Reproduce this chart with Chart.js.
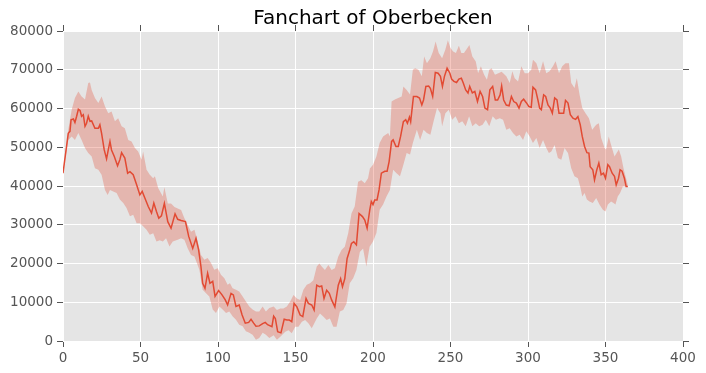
<!DOCTYPE html>
<html>
<head>
<meta charset="utf-8">
<script src="https://cdn.jsdelivr.net/npm/chart.js@4.4.1/dist/chart.umd.min.js"></script>
<style>
  html, body { margin: 0; padding: 0; background: #fff; }
  #wrap { width: 706px; height: 373px; }
</style>
</head>
<body>
<div id="wrap"><canvas id="chart"></canvas></div>
<script>
// ========== Datos (día, volumen) ==========

const titulo = 'Fanchart of Oberbecken';

const xTicks = [0, 50, 100, 150, 200, 250, 300, 350, 400];
const yTicks = [0, 10000, 20000, 30000, 40000, 50000, 60000, 70000, 80000];

// Línea central
const mediana = [
    [0, 43300], [3.4, 53600], [4.5, 54100], [5.2, 57100], [6.7, 57300], [7.7, 56400], [8.8, 58000],
    [9.9, 59800], [11, 59500], [12, 58000], [13.1, 58400], [14.2, 55400], [15.2, 56200], [16.3, 58000],
    [17.4, 56700], [18.5, 56800], [20.6, 54900], [22.8, 54900], [23.8, 55800], [24.9, 53600], [26.6, 49300],
    [28.1, 47000], [29.2, 49300], [30.3, 51500], [31.3, 49300], [33.1, 47600], [35.2, 45200], [36.7, 46800],
    [37.8, 48600], [39.9, 47200], [41.7, 43300], [43.2, 43700], [45.3, 42900], [47.5, 40300], [49.6, 37700],
    [51.1, 38600], [52.8, 36900], [55, 34700], [57.1, 33000], [58.6, 35600], [60.3, 33400], [61.8, 31700],
    [63.5, 32300], [65.4, 35500], [67.6, 30800], [69.7, 29100], [72.3, 32800], [74, 31400], [76.2, 31100],
    [79, 30800], [81.1, 27000], [83.7, 23900], [85.8, 26500], [87.5, 23500], [89, 19200], [90.1, 14900],
    [91.6, 13600], [93.3, 17500], [94.8, 14900], [96.6, 15400], [98.1, 11500], [100.4, 13000], [102.6, 11900],
    [104.7, 10600], [106.2, 9300], [108.4, 12300], [109.9, 11900], [111.6, 8900], [113.7, 9300], [115.5, 6800],
    [117.6, 4600], [119.8, 4800], [121.3, 5600], [123, 4600], [124.5, 3800], [126.6, 3900], [128.8, 4500],
    [130.5, 4800], [132, 4200], [134.8, 3700], [135.9, 6400], [137, 5800], [138.5, 2400], [140.6, 2100],
    [142.7, 5600], [144.4, 5400], [146, 5400], [147.6, 5000], [149.1, 9700], [150.9, 8800], [153, 6700],
    [154.7, 6300], [156.8, 11000], [158.3, 9700], [160.5, 9300], [162, 8000], [163.7, 14400], [165.4, 14000],
    [166.9, 14200], [168.4, 11000], [170.1, 13100], [171.8, 12300], [173.3, 10600], [175.4, 8800], [177.6, 14400],
    [179.1, 16100], [180.3, 14000], [181.8, 16100], [183.3, 21300], [185, 23500], [186.1, 25200], [187.6, 25600],
    [189.3, 24800], [191, 32900], [193.2, 32100], [194.7, 31200], [196.2, 29100], [197.9, 33800], [198.9, 36000],
    [200, 35200], [201.1, 36400], [202.6, 36400], [203.9, 39000], [205.4, 43300], [207.6, 43800], [209.1, 43800],
    [210.4, 46300], [212, 51500], [213, 51900], [214.8, 50200], [216.3, 50200], [217.8, 52800], [219.6, 56600],
    [221.1, 57100], [222.2, 56200], [223.5, 57800], [224.3, 56600], [226.1, 63100], [228.3, 63100], [230, 62700],
    [231.5, 60900], [232.6, 62200], [234.1, 65700], [235.9, 65800], [237, 65200], [238.5, 63100], [240.2, 69300],
    [242, 69100], [243.5, 68300], [244.8, 65700], [246.1, 68300], [247.8, 70400], [249.6, 69100], [250.7, 67600],
    [252.2, 67000], [253.9, 66700], [255.4, 67600], [257, 67800], [258.3, 66500], [259.8, 64800], [261.3, 64000],
    [262.4, 65700], [264.1, 64000], [265.7, 64400], [267.4, 61800], [269.1, 64400], [270.7, 63100], [272.2, 60100],
    [273.9, 59700], [275.4, 64800], [277.2, 65700], [278.9, 62200], [280.4, 62200], [282, 63500], [283, 65800],
    [284.3, 62200], [286, 60900], [287.8, 60700], [289.3, 63100], [290.8, 61800], [292.5, 61400], [294.2, 60100],
    [295.7, 61800], [297.2, 62400], [298.9, 61500], [300.6, 60500], [302.1, 60300], [303.2, 65500], [304.9, 64800],
    [306.4, 62200], [307.5, 60100], [308.6, 59700], [310.1, 63500], [311.4, 63100], [312.9, 60900], [314.4, 60100],
    [315.7, 58800], [317.2, 62700], [318.7, 62200], [320, 58800], [321.5, 58800], [323, 58800], [324.2, 62100],
    [325.8, 61400], [327.3, 58400], [329, 57500], [330.7, 57200], [332.2, 57900], [333.7, 55800], [335, 52800],
    [336.5, 50200], [338, 48600], [339.3, 48500], [340.1, 45000], [341.8, 44200], [342.9, 41600], [344.4, 44200],
    [345.7, 45900], [347.2, 42900], [348.7, 43300], [350, 42000], [351.5, 45500], [352.6, 45000], [354.3, 43300],
    [355.8, 42500], [356.9, 40300], [358.4, 42000], [359.4, 44200], [360.7, 43800], [362.2, 42000], [363.3, 39900],
    [364.4, 39900]
];

// Borde superior del abanico
const bandaSup = [
    [0, 43300], [3.4, 54500], [5.6, 59700], [7.7, 62700], [9.9, 64400], [12, 63100], [14.2, 62300], [16.3, 66600],
    [17.4, 66700], [18.5, 64800], [20.6, 62700], [22.8, 61400], [24.9, 63100], [27.1, 60500], [29.2, 58800],
    [31.3, 59200], [33.5, 56700], [35.6, 57500], [37.8, 55400], [39.9, 54900], [42.1, 51900], [44.2, 51500],
    [46.4, 49800], [48.5, 48900], [50.7, 46800], [51.7, 48900], [53.9, 44200], [56, 42900], [58.2, 42000],
    [59.3, 42500], [61.4, 39500], [64.4, 37300], [65.4, 39700], [67.6, 35500], [69.7, 35500], [71.9, 34600],
    [74, 34200], [76.2, 33800], [78.3, 31700], [80.5, 29900], [82.6, 28200], [84.8, 28700], [86.9, 25700],
    [89, 22200], [91.2, 21000], [93.3, 21400], [95.5, 20100], [97.6, 18400], [99.8, 18800], [101.9, 17100],
    [104.1, 16200], [106.2, 14500], [107.7, 14900], [109.4, 13600], [111.6, 13200], [113.7, 12800], [115.9, 11500],
    [118, 10200], [120.2, 8900], [122.3, 8100], [124.5, 7600], [126.6, 7600], [128.8, 8900], [130.9, 7600],
    [133.1, 8500], [135.9, 8900], [138, 8000], [140.2, 8400], [142.3, 8400], [144.4, 8900], [146.6, 10200],
    [148.7, 11900], [150.9, 11000], [153, 10600], [155.1, 13200], [157.3, 14500], [159.4, 14900], [161.5, 15700],
    [163.7, 19200], [165.4, 20000], [166.9, 19200], [169, 18300], [171.2, 19600], [173.3, 18300], [175.4, 18800],
    [177.6, 21800], [179.7, 23500], [181.8, 24300], [184, 27800], [186.1, 32900], [188.2, 34700], [190.4, 41100],
    [192.5, 41500], [194.7, 40700], [196.8, 42000], [198, 44500], [200, 45500], [202.2, 47600], [204.3, 51100],
    [206.5, 52800], [209.8, 53700], [210.9, 52800], [212, 61800], [214.1, 62300], [216.3, 62700], [218.5, 63100],
    [219.6, 65700], [221.7, 64800], [223.9, 63600], [225.7, 70000], [227.2, 70400], [229.3, 70000], [231.5, 68300],
    [233, 73400], [234.8, 71700], [237, 73000], [238.7, 74700], [240.4, 77300], [242.4, 74300], [244.6, 73000],
    [246.7, 75200], [248.3, 77600], [250, 75600], [251.7, 74700], [253.5, 74300], [255.4, 76200], [257, 74300],
    [258.7, 74300], [260.9, 75600], [262.2, 76400], [264.1, 73400], [266.3, 72100], [267.8, 69100], [269.6, 70900],
    [271.7, 68700], [273.5, 67400], [275, 70000], [276.5, 70400], [278.7, 68700], [280.9, 69100], [283, 69500],
    [286, 68300], [288.2, 66600], [289.9, 69600], [291.4, 67800], [293.6, 67000], [295.7, 70900], [297.9, 69100],
    [300, 69100], [302.1, 70000], [303.2, 72600], [305.4, 71700], [307.5, 69100], [309.7, 72200], [311.8, 69100],
    [313.9, 69600], [316.1, 70900], [317.8, 72200], [320, 69100], [322.1, 70900], [324.2, 71700], [326.4, 71700],
    [327.9, 66600], [330, 65300], [331.5, 67800], [333.3, 63500], [335, 60100], [337.1, 58800], [339.3, 57500],
    [341.4, 54500], [344, 55800], [345.7, 56200], [347.2, 52400], [349.4, 49800], [350.4, 49400], [352.1, 52800],
    [353.6, 50600], [355.8, 47600], [358.6, 49400], [360.1, 47600], [361.6, 44600], [362.9, 42500], [364.4, 40300]
];

// Borde inferior del abanico
const bandaInf = [
    [0, 43300], [3.4, 51900], [5.6, 52800], [7.7, 51900], [9.9, 53700], [12, 51900], [14.2, 49800], [16.3, 48500],
    [18.5, 47600], [20.6, 44600], [22.8, 44200], [24.9, 42900], [27.1, 39000], [28.8, 37700], [30.3, 39000],
    [32.4, 38600], [34.6, 38200], [36.7, 36500], [38.9, 35600], [41, 34300], [43.2, 32200], [45.3, 32600],
    [47.5, 30400], [49.6, 30400], [51.7, 29600], [53.9, 28700], [56, 27400], [58.2, 27800], [60.3, 25700],
    [62.4, 26000], [64.4, 25700], [66.5, 26500], [68.7, 24400], [70.8, 25700], [74, 26100], [76.2, 26500],
    [78.3, 26100], [80.5, 23900], [82.6, 22200], [84.8, 21800], [88, 18400], [90.1, 13200], [92.3, 12300],
    [94.4, 11500], [96.6, 8100], [98.7, 7200], [100.9, 8900], [103, 8100], [105.2, 7200], [107.3, 7600],
    [109.4, 6400], [111.6, 5500], [113.7, 4200], [115.9, 3800], [118, 2500], [120.2, 2100], [122.3, 1600],
    [124.5, 300], [126.6, 800], [128.8, 2100], [130.9, 1600], [133.1, 800], [135.9, 1500], [138, 300],
    [140.2, 1100], [143.4, 2400], [145.5, 2800], [147.6, 2000], [149.8, 3700], [151.9, 3700], [154.1, 5000],
    [156.2, 5400], [158.3, 4600], [160.5, 3300], [163.7, 5800], [165.8, 7100], [167.9, 6300], [170.1, 5400],
    [172.2, 5800], [174.4, 3700], [176.5, 3700], [178.6, 7600], [180.8, 8000], [182.9, 9700], [185, 14900],
    [187.2, 16200], [189.3, 18300], [191.5, 23000], [193.6, 23900], [195.7, 19200], [197.8, 24300], [200, 25700],
    [202.2, 27900], [204.3, 33900], [206.5, 35200], [208.7, 37300], [210.9, 39000], [213, 44200], [215.2, 43300],
    [217.4, 42500], [219.6, 45500], [221.7, 48500], [223.9, 48100], [225.7, 51100], [228.3, 54500], [230.4, 51900],
    [232.6, 54500], [234.8, 53700], [237, 53200], [239.1, 56700], [241.3, 60100], [243.5, 58800], [244.6, 55400],
    [246.7, 58800], [248.9, 59700], [251.1, 57100], [253.3, 58000], [255.4, 56200], [257.6, 56700], [259.8, 55400],
    [262, 58000], [264.1, 55400], [266.3, 56200], [268.5, 55400], [270.7, 55800], [272.8, 57100], [275, 55400],
    [277.2, 58000], [279.3, 57100], [281.8, 57500], [283.9, 57100], [286, 54500], [288.2, 54900], [290.3, 53700],
    [292.5, 52800], [294.6, 53200], [296.8, 51900], [298.9, 54100], [301.1, 52800], [303.2, 51100], [305.4, 52400],
    [307.5, 49800], [309.7, 51900], [311.8, 49800], [313.5, 48500], [315, 48900], [317.2, 50600], [319.3, 47200],
    [321.5, 46800], [323.6, 49800], [325.8, 48500], [327.9, 44600], [330, 42500], [332.2, 42000], [333.9, 39500],
    [335, 37300], [336.5, 38200], [338, 36500], [339.7, 36000], [341.8, 35600], [344, 36900], [346.1, 35200],
    [348.3, 33900], [350, 33400], [351.5, 35200], [353.6, 36000], [355.2, 35600], [356.4, 35200], [357.9, 37300],
    [359.4, 38200], [361.2, 39900], [363.3, 39900], [364.4, 39900]
];

// ========== Estilo ggplot ==========

const ROJO = '#E24A33';
const GRIS_TICK = '#555555';

const aPuntos = arr => arr.map(([x, y]) => ({ x, y }));

// fondo gris del área de trazado
const fondoPlot = {
    id: 'fondoPlot',
    beforeDraw(chart) {
        const { ctx, chartArea: a } = chart;
        ctx.save();
        ctx.fillStyle = '#E5E5E5';
        ctx.fillRect(a.left, a.top, a.right - a.left, a.bottom - a.top);
        ctx.restore();
    }
};

Chart.defaults.font.family = "'DejaVu Sans', sans-serif";
Chart.defaults.animation = false;

const tickMarks = { color: '#ffffff', lineWidth: 1, tickColor: GRIS_TICK, tickLength: 6, tickWidth: 1 };

new Chart(document.getElementById('chart'), {
    type: 'line',
    data: {
        datasets: [
            {
                label: 'mediana',
                data: aPuntos(mediana),
                borderColor: ROJO,
                borderWidth: 1.5,
                pointRadius: 0,
                tension: 0,
                fill: false,
            },
            {
                label: 'inf',
                data: aPuntos(bandaInf),
                borderWidth: 0,
                borderColor: 'rgba(0,0,0,0)',
                pointRadius: 0,
                fill: false,
            },
            {
                label: 'sup',
                data: aPuntos(bandaSup),
                borderWidth: 0,
                borderColor: 'rgba(0,0,0,0)',
                backgroundColor: 'rgba(226,74,51,0.3)',
                pointRadius: 0,
                fill: '-1',
            },
        ]
    },
    options: {
        responsive: true,
        maintainAspectRatio: false,
        layout: { padding: 0 },
        plugins: {
            legend: { display: false },
            tooltip: { enabled: false },
            title: {
                display: true,
                fullSize: false,   // centrado sobre el área de trazado, como matplotlib
                text: titulo,
                color: '#000',
                font: { size: 20, weight: 'normal', lineHeight: 1 },
                padding: { top: 9, bottom: 0 },
            },
        },
        scales: {
            x: {
                type: 'linear', position: 'bottom',
                min: xTicks[0], max: xTicks[xTicks.length - 1],
                afterBuildTicks: s => { s.ticks = xTicks.map(v => ({ value: v })); },
                ticks: { color: GRIS_TICK, font: { size: 13.5 }, padding: 3, maxRotation: 0 },
                grid: tickMarks,
                border: { display: false },
                afterFit: s => { s.height = 32; },
            },
            xTop: {
                type: 'linear', position: 'top',
                min: xTicks[0], max: xTicks[xTicks.length - 1],
                afterBuildTicks: s => { s.ticks = xTicks.map(v => ({ value: v })); },
                ticks: { display: false },
                grid: { ...tickMarks, drawOnChartArea: false },
                border: { display: false },
                afterFit: s => { s.height = 2; },
            },
            y: {
                type: 'linear', position: 'left',
                min: yTicks[0], max: yTicks[yTicks.length - 1],
                afterBuildTicks: s => { s.ticks = yTicks.map(v => ({ value: v })); },
                ticks: { color: GRIS_TICK, font: { size: 13.5 }, padding: 4, callback: v => String(v) },
                grid: tickMarks,
                border: { display: false },
                afterFit: s => { s.width = 63; },
            },
            yRight: {
                type: 'linear', position: 'right',
                min: yTicks[0], max: yTicks[yTicks.length - 1],
                afterBuildTicks: s => { s.ticks = yTicks.map(v => ({ value: v })); },
                ticks: { display: false },
                grid: { ...tickMarks, drawOnChartArea: false },
                border: { display: false },
                afterFit: s => { s.width = 23; },
            },
        }
    },
    plugins: [fondoPlot]
});
</script>
</body>
</html>
